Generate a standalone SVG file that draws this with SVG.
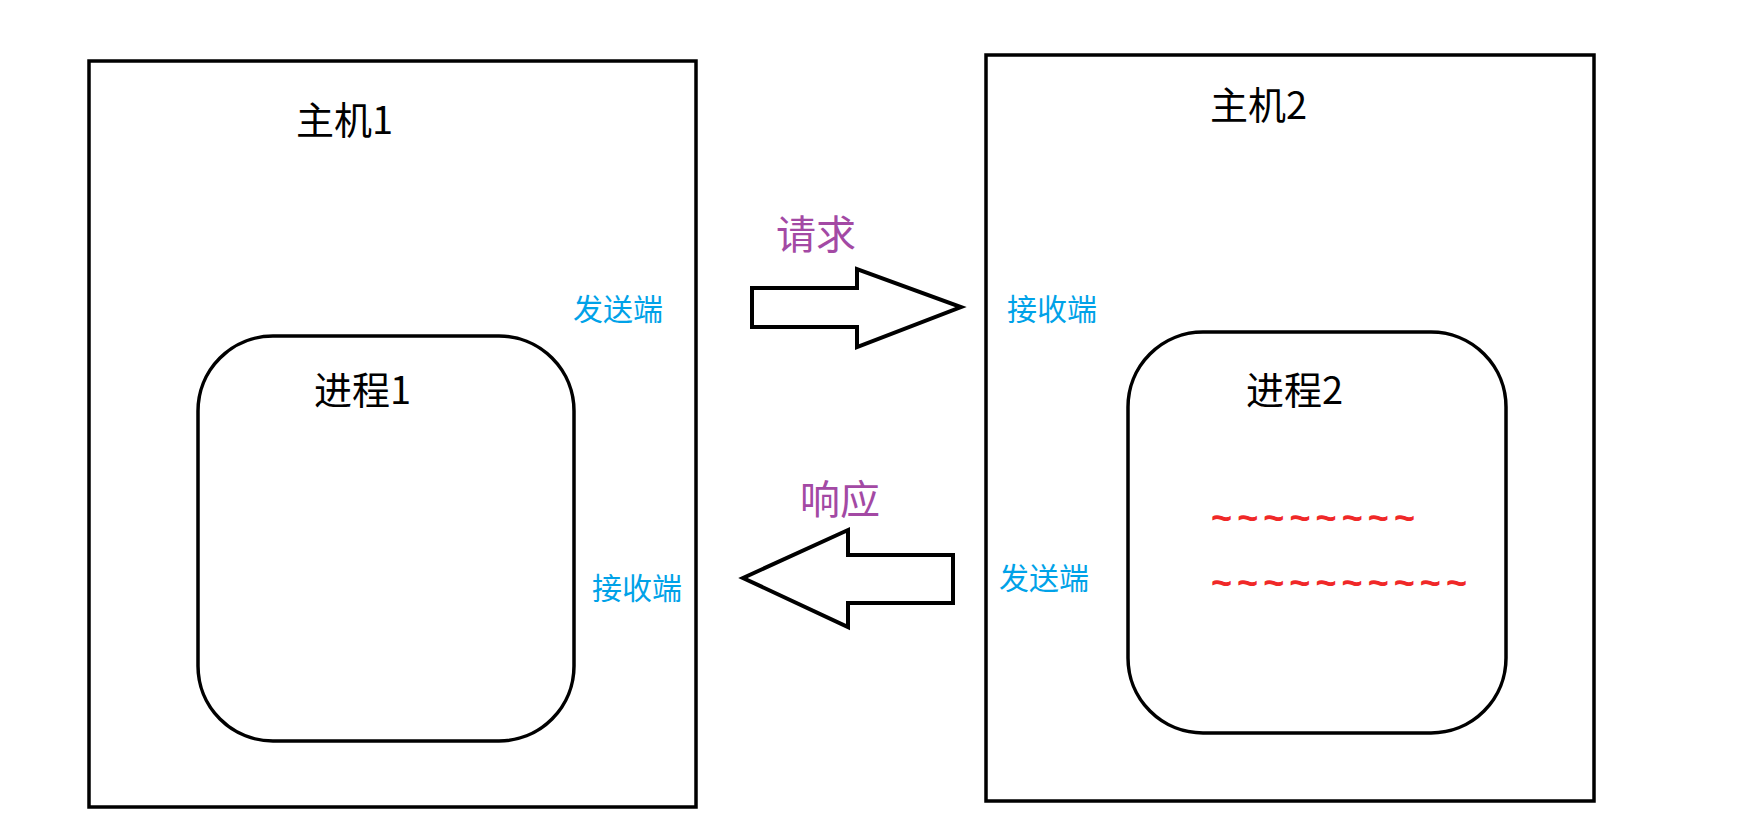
<svg xmlns="http://www.w3.org/2000/svg" width="1745" height="813" viewBox="0 0 1745 813">
<style>
.host{fill:#fff;stroke:#000;stroke-width:3.5}
.proc{fill:#fff;stroke:#000;stroke-width:3.5}
.arrow{fill:#fff;stroke:#000;stroke-width:4;stroke-linejoin:miter}
.lbl{font-family:"Noto Sans CJK SC","Microsoft YaHei",sans-serif;font-size:38px;fill:#000}
.end{font-family:"Noto Sans CJK SC",sans-serif;font-size:30px;fill:#00a2e8}
.act{font-family:"Noto Sans CJK SC",sans-serif;font-size:40px;fill:#a349a4}
.tilde{font-family:"Liberation Sans",sans-serif;font-size:36px;font-weight:bold;fill:#f02828}
</style>
<rect width="1745" height="813" fill="#fff"/>
<g id="host1">
<rect class="host" x="89" y="61" width="607" height="746"/>
<text class="lbl" x="296" y="134">主机1</text>
<text class="end" x="573" y="320">发送端</text>
<text class="end" x="592" y="599">接收端</text>
</g>
<g id="process1">
<rect class="proc" x="198" y="336" width="376" height="405" rx="75" ry="75"/>
<text class="lbl" x="314" y="404">进程1</text>
</g>
<g id="host2">
<rect class="host" x="986" y="55" width="608" height="746"/>
<text class="lbl" x="1210" y="119">主机2</text>
<text class="end" x="1007" y="320">接收端</text>
<text class="end" x="999" y="589">发送端</text>
</g>
<g id="process2">
<rect class="proc" x="1128" y="332" width="378" height="401" rx="75" ry="75"/>
<text class="lbl" x="1246" y="404">进程2</text>
<text class="tilde" x="1211" y="530" textLength="204" lengthAdjust="spacing">~~~~~~~~</text>
<text class="tilde" x="1211" y="595" textLength="256" lengthAdjust="spacing">~~~~~~~~~~</text>
</g>
<g id="connectors">
<g id="request">
<polygon class="arrow" points="752,288 857,288 857,269 961,307 857,347 857,327 752,327"/>
<text class="act" x="776" y="249">请求</text>
</g>
<g id="response">
<polygon class="arrow" points="953,555 848,555 848,530 743,578 848,627 848,603 953,603"/>
<text class="act" x="800" y="514">响应</text>
</g>
</g>
</svg>
